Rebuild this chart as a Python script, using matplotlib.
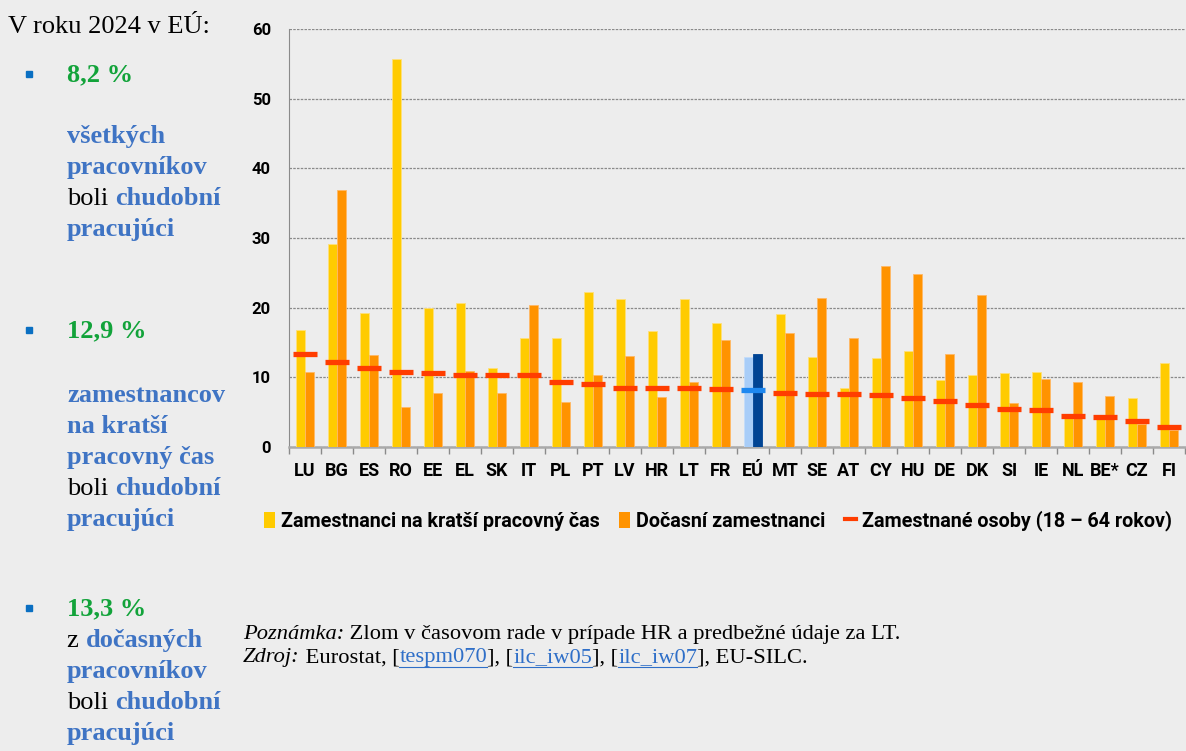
import matplotlib
matplotlib.use("Agg")
import matplotlib.pyplot as plt
from matplotlib.patches import Patch, Rectangle
from matplotlib.lines import Line2D
import numpy as np

countries = ["LU", "BG", "ES", "RO", "EE", "EL", "SK", "IT", "PL", "PT", "LV", "HR", "LT", "FR",
             "EÚ", "MT", "SE", "AT", "CY", "HU", "DE", "DK", "SI", "IE", "NL", "BE*", "CZ", "FI"]
part_time = [16.8, 29.2, 19.2, 55.7, 20.0, 20.6, 11.3, 15.7, 15.6, 22.3, 21.3, 16.7, 21.3, 17.8,
             12.9, 19.1, 12.9, 8.4, 12.8, 13.8, 9.6, 10.3, 10.6, 10.8, 4.3, 4.0, 7.0, 12.0]
temporary = [10.7, 36.9, 13.2, 5.8, 7.8, 10.9, 7.8, 20.4, 6.4, 10.4, 13.0, 7.2, 9.4, 15.4,
             13.3, 16.4, 21.4, 15.7, 26.0, 24.8, 13.4, 21.8, 6.3, 9.7, 9.4, 7.3, 3.3, 2.4]
employed = [13.4, 12.2, 11.3, 10.7, 10.6, 10.4, 10.3, 10.3, 9.3, 9.1, 8.4, 8.4, 8.4, 8.3,
            8.2, 7.8, 7.6, 7.6, 7.4, 7.0, 6.6, 6.1, 5.4, 5.3, 4.5, 4.3, 3.7, 2.8]
yticks = [0, 10, 20, 30, 40, 50, 60]

legend_labels = ["Zamestnanci na kratší pracovný čas", "Dočasní zamestnanci",
                 "Zamestnané osoby (18 – 64 rokov)"]

BG = "#EDEDED"
YEL = "#FFCB00"
ORA = "#FF9300"
RED = "#FF3D00"
EU_LIGHT = "#A8CDF8"
EU_DARK = "#004494"
EU_LINE = "#1E88F0"
GREEN = "#12A33A"
BLUE = "#3F74C4"

W, H = 1186, 751
fig = plt.figure(figsize=(W / 100, H / 100), dpi=100, facecolor=BG)
ax = fig.add_axes([289 / W, 1 - 447 / H, 896 / W, 418 / H], facecolor=BG)

x = np.arange(len(countries))
eu = countries.index("EÚ")
c1 = [EU_LIGHT if i == eu else YEL for i in range(len(x))]
c2 = [EU_DARK if i == eu else ORA for i in range(len(x))]
c3 = [EU_LINE if i == eu else RED for i in range(len(x))]
e1 = ["#C4DDFA" if i == eu else "#FFE07A" for i in range(len(x))]
e2 = [EU_DARK if i == eu else "#FFB866" for i in range(len(x))]
bw = 0.28
ax.bar(x - 0.155, part_time, bw, color=c1, zorder=3, edgecolor=e1, linewidth=0.6)
ax.bar(x + 0.155, temporary, bw, color=c2, zorder=3, edgecolor=e2, linewidth=0.6)
ax.hlines(employed, x - 0.375, x + 0.375, colors=c3, lw=3.8, zorder=4)

ax.set_xlim(-0.5, len(x) - 0.5)
ax.set_ylim(0, 60)
ax.set_yticks(yticks)
ax.set_yticklabels([str(v) for v in yticks], fontfamily="Roboto", fontweight="bold",
                   fontsize=12)
ax.yaxis.grid(True, color="#8A8A8A", linestyle=(0, (2, 1)), lw=0.9, zorder=0)
ax.tick_params(axis="y", length=0, pad=13)
ax.set_xticks(x)
ax.set_xticklabels(countries, fontfamily="Roboto", fontweight="bold", fontsize=13)
ax.set_xticks(np.arange(len(x) + 1) - 0.5, minor=True)
ax.tick_params(axis="x", which="major", length=0, pad=11)
ax.tick_params(axis="x", which="minor", length=5, color="#8A8A8A", width=1)
for s in ["top", "right"]:
    ax.spines[s].set_visible(False)
ax.spines["left"].set_color("#8A8A8A")
ax.spines["bottom"].set_color("#AAAAAA")
ax.spines["bottom"].set_linewidth(1.8)

handles = [Patch(facecolor=YEL, edgecolor="none"), Patch(facecolor=ORA, edgecolor="none"),
           Line2D([0], [0], color=RED, lw=3)]
leg = fig.legend(handles, legend_labels, loc="center left", bbox_to_anchor=(264 / W, 1 - 521 / H),
                 ncol=3, frameon=False, handlelength=0.55, handleheight=0.9, handletextpad=0.3,
                 columnspacing=1.0, borderaxespad=0, borderpad=0,
                 prop={"family": "Roboto", "weight": "bold", "size": 14.2})

renderer = fig.canvas.get_renderer()


def rich(xp, yp, parts, size=19, family="Liberation Serif"):
    for text, color, weight, style, link in parts:
        t = fig.text(xp / W, 1 - yp / H, text, color=color, fontweight=weight, fontstyle=style,
                     fontsize=size, fontfamily=family, va="baseline", ha="left")
        bb = t.get_window_extent(renderer)
        if link:
            yb = bb.y0 + 0.5
            fig.add_artist(Line2D([bb.x0 / W, bb.x1 / W], [yb / H, yb / H], color=color, lw=0.8))
        xp += bb.width


N, B = "normal", "bold"
rich(8, 33, [("V roku 2024 v EÚ:", "black", N, N, False)])

blocks = [
    (81, [[("8,2 %", GREEN, B, N, False)]], 143,
     [[("všetkých", BLUE, B, N, False)],
      [("pracovníkov", BLUE, B, N, False)],
      [("boli ", "black", N, N, False), ("chudobní", BLUE, B, N, False)],
      [("pracujúci", BLUE, B, N, False)]]),
    (337, [[("12,9 %", GREEN, B, N, False)]], 402,
     [[("zamestnancov", BLUE, B, N, False)],
      [("na kratší", BLUE, B, N, False)],
      [("pracovný čas", BLUE, B, N, False)],
      [("boli ", "black", N, N, False), ("chudobní", BLUE, B, N, False)],
      [("pracujúci", BLUE, B, N, False)]]),
    (615, [[("13,3 %", GREEN, B, N, False)]], 647,
     [[("z ", "black", N, N, False), ("dočasných", BLUE, B, N, False)],
      [("pracovníkov", BLUE, B, N, False)],
      [("boli ", "black", N, N, False), ("chudobní", BLUE, B, N, False)],
      [("pracujúci", BLUE, B, N, False)]]),
]
for yhead, head, ystart, lines in blocks:
    fig.add_artist(Rectangle((26 / W, 1 - (yhead - 4) / H), 6 / W, 6 / H, color="#0A6FC2",
                             transform=fig.transFigure))
    rich(67, yhead, head[0])
    for k, ln in enumerate(lines):
        rich(67, ystart + k * 31, ln)

LINK = "#2F6FC8"
rich(243, 639, [("Poznámka:", "black", N, "italic", False),
                (" Zlom v časovom rade v prípade HR a predbežné údaje za LT.", "black", N, N, False)],
     size=16.2)
rich(243, 662, [("Zdroj:", "black", N, "italic", False), (" Eurostat, [", "black", N, N, False),
                ("tespm070", LINK, N, N, True), ("], [", "black", N, N, False),
                ("ilc_iw05", LINK, N, N, True), ("], [", "black", N, N, False),
                ("ilc_iw07", LINK, N, N, True), ("], EU-SILC.", "black", N, N, False)],
     size=16.2)

fig.savefig("out.png", dpi=100, facecolor=BG)
